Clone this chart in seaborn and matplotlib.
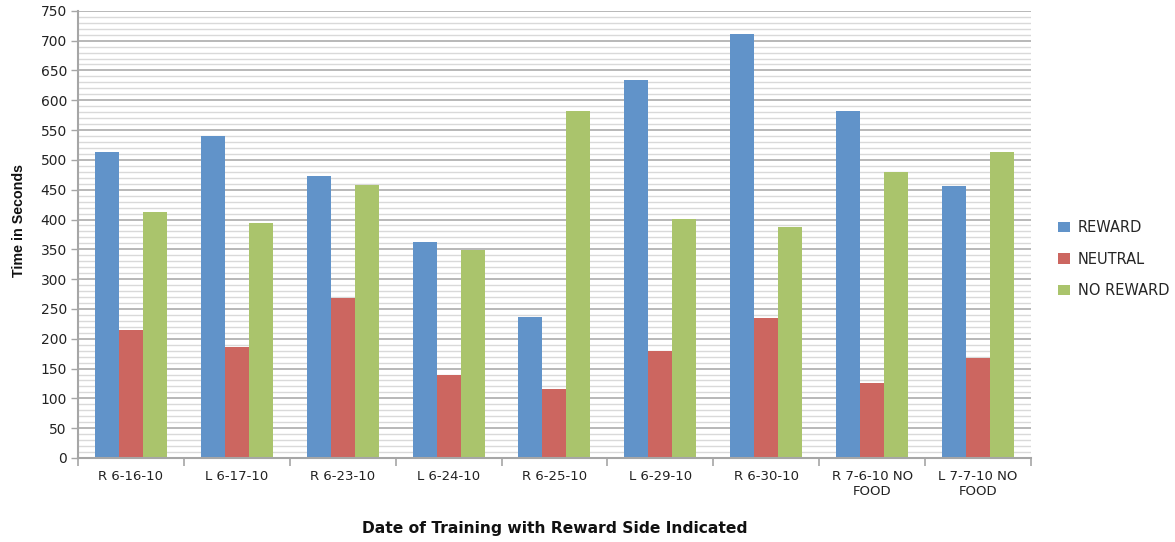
import matplotlib
matplotlib.use("Agg")
import matplotlib.pyplot as plt
from matplotlib.ticker import MultipleLocator, FixedLocator
import seaborn as sns
import pandas as pd
import numpy as np

sessions = ["R 6-16-10", "L 6-17-10", "R 6-23-10", "L 6-24-10", "R 6-25-10",
            "L 6-29-10", "R 6-30-10", "R 7-6-10 NO\nFOOD", "L 7-7-10 NO\nFOOD"]
reward = [513, 540, 473, 362, 237, 634, 711, 582, 456]
neutral = [215, 186, 268, 139, 116, 180, 235, 126, 168]
no_reward = [413, 394, 458, 349, 582, 401, 388, 480, 513]
series = ["REWARD", "NEUTRAL", "NO REWARD"]
colors = ["#6193C9", "#CC6660", "#AAC46C"]

df = pd.DataFrame({
    "session": sessions * 3,
    "condition": [s for s in series for _ in sessions],
    "seconds": reward + neutral + no_reward,
})

sns.set_theme(style="white")
plt.rcParams["font.family"] = ["DejaVu Sans"]

fig = plt.figure(figsize=(11.75, 5.42), dpi=100)
ax = fig.add_axes([0.0664, 0.155, 0.811, 0.825])

sns.barplot(data=df, x="session", y="seconds", hue="condition",
            order=sessions, hue_order=series, palette=colors,
            width=0.68, saturation=1, linewidth=0, edgecolor="none",
            ax=ax, legend=True)

ax.set_ylim(0, 750)
ax.set_xlim(-0.5, len(sessions) - 0.5)
ax.yaxis.set_major_locator(MultipleLocator(50))
ax.yaxis.set_minor_locator(MultipleLocator(10))
ax.xaxis.set_minor_locator(FixedLocator(np.arange(-0.5, len(sessions), 1.0)))
ax.yaxis.grid(True, which="major", color="#ABABAB", linewidth=1.2)
ax.yaxis.grid(True, which="minor", color="#D9D9D9", linewidth=1.0)
ax.xaxis.grid(False, which="both")
ax.set_axisbelow(True)

ax.spines["top"].set_visible(False)
ax.spines["right"].set_visible(False)
for side in ["left", "bottom"]:
    ax.spines[side].set_color("#A6A6A6")
    ax.spines[side].set_linewidth(1.5)

ax.tick_params(axis="y", which="major", length=5, width=1, color="#A6A6A6",
               labelsize=10, labelcolor="#222222", left=True, pad=3)
ax.tick_params(axis="y", which="minor", length=0)
ax.tick_params(axis="x", which="major", length=0, labelsize=9.5,
               labelcolor="#222222", pad=9)
ax.tick_params(axis="x", which="minor", length=6, width=1.2, color="#A6A6A6",
               bottom=True)
for lbl in ax.get_xticklabels():
    lbl.set_horizontalalignment("center")
    lbl.set_multialignment("center")

ax.set_xlabel("Date of Training with Reward Side Indicated", fontsize=11.2,
              fontweight="bold", color="#111111", labelpad=16)
ax.set_ylabel("")
fig.text(0.0165, 0.594, "Time in Seconds", rotation=90, ha="center",
         va="center", fontsize=10.3, fontweight="bold", color="#111111",
         family=["Liberation Sans", "DejaVu Sans"])

handles, labels = ax.get_legend_handles_labels()
fig.legend(handles, labels, loc="center left",
           bbox_to_anchor=(0.9004, 0.522), frameon=False, fontsize=10.5,
           handlelength=0.82, handleheight=0.7, labelspacing=1.15,
           handletextpad=0.55, borderaxespad=0, borderpad=0)
if ax.get_legend() is not None:
    ax.get_legend().remove()

fig.savefig("out.png", dpi=100)
